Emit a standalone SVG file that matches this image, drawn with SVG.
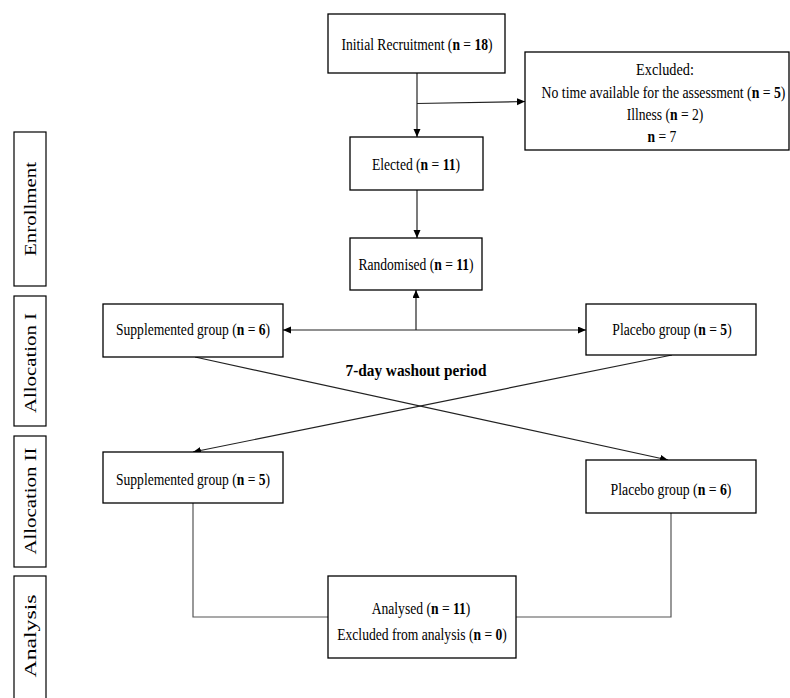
<svg xmlns="http://www.w3.org/2000/svg" width="790" height="698" viewBox="0 0 790 698">
<style>
.box{fill:#fff;stroke:#000;stroke-width:1.3}
.side{fill:#fff;stroke:#000;stroke-width:1.2}
.t{font-family:"Liberation Serif","Times New Roman",serif;font-size:17px;fill:#000;text-anchor:middle}
.st{font-family:"Liberation Serif","Times New Roman",serif;font-size:21px;fill:#000;text-anchor:middle}
.b{font-weight:bold}
.c{fill:none;stroke:#222;stroke-width:1.2}
.g{fill:none;stroke:#555;stroke-width:1.2}
</style>
<defs>
<marker id="ah" markerUnits="userSpaceOnUse" markerWidth="9" markerHeight="8" refX="8" refY="3.5" orient="auto-start-reverse">
<path d="M0,0 L8,3.5 L0,7 z" fill="#000"/>
</marker>
</defs>
<rect width="790" height="698" fill="#fff"/>

<g id="phases">
<g id="phase-enrollment"><rect class="side" x="14" y="132" width="32" height="154"/><text class="st" transform="translate(36,209) rotate(-90) scale(1,0.8)" textLength="94" lengthAdjust="spacingAndGlyphs">Enrollment</text></g>
<g id="phase-allocation1"><rect class="side" x="14" y="296" width="32" height="130"/><text class="st" transform="translate(36,363) rotate(-90) scale(1,0.8)" textLength="100" lengthAdjust="spacingAndGlyphs">Allocation I</text></g>
<g id="phase-allocation2"><rect class="side" x="14" y="436" width="32" height="131"/><text class="st" transform="translate(36,501) rotate(-90) scale(1,0.8)" textLength="107" lengthAdjust="spacingAndGlyphs">Allocation II</text></g>
<g id="phase-analysis"><rect class="side" x="14" y="576" width="32" height="130"/><text class="st" transform="translate(36,636) rotate(-90) scale(1,0.8)" textLength="83" lengthAdjust="spacingAndGlyphs">Analysis</text></g>
</g>

<g id="connectors">
<line class="c" x1="417" y1="73" x2="417" y2="137" marker-end="url(#ah)"/>
<line class="c" x1="417" y1="103.5" x2="525" y2="101.5" marker-end="url(#ah)"/>
<line class="c" x1="417" y1="190" x2="417" y2="238" marker-end="url(#ah)"/>
<line class="c" x1="416" y1="330" x2="416" y2="290" marker-end="url(#ah)"/>
<line class="c" x1="283" y1="330" x2="586" y2="330" marker-start="url(#ah)" marker-end="url(#ah)"/>
<line class="c" x1="195" y1="357" x2="668" y2="460" marker-end="url(#ah)"/>
<line class="c" x1="672" y1="355" x2="193" y2="452" marker-end="url(#ah)"/>
<polyline class="g" points="193,503 193,617 328,617"/>
<polyline class="g" points="671,513 671,617 516,617"/>
</g>

<g id="initial">
<rect class="box" x="328" y="14" width="177" height="59"/>
<text class="t" transform="translate(417,50) scale(0.8,1)">Initial Recruitment (<tspan class="b">n</tspan> = <tspan class="b">18</tspan>)</text>
</g>

<g id="excluded">
<rect class="box" x="525" y="52" width="264" height="98"/>
<text class="t" transform="translate(665,75) scale(0.84,1)">Excluded:</text>
<text class="t" transform="translate(663.5,98) scale(0.81,1)">No time available for the assessment (<tspan class="b">n</tspan> = <tspan class="b">5</tspan>)</text>
<text class="t" transform="translate(665,120) scale(0.8,1)">Illness (<tspan class="b">n</tspan> = 2)</text>
<text class="t" transform="translate(662,142) scale(0.8,1)"><tspan class="b">n</tspan> = 7</text>
</g>

<g id="elected">
<rect class="box" x="350" y="137" width="133" height="53"/>
<text class="t" transform="translate(416,170) scale(0.8,1)">Elected (<tspan class="b">n</tspan> = <tspan class="b">11</tspan>)</text>
</g>

<g id="randomised">
<rect class="box" x="350" y="238" width="132" height="52"/>
<text class="t" transform="translate(416,270) scale(0.8,1)">Randomised (<tspan class="b">n</tspan> = <tspan class="b">11</tspan>)</text>
</g>

<g id="supp1">
<rect class="box" x="103" y="304" width="180" height="53"/>
<text class="t" transform="translate(193,335) scale(0.8,1)">Supplemented group (<tspan class="b">n</tspan> = <tspan class="b">6</tspan>)</text>
</g>

<g id="placebo1">
<rect class="box" x="586" y="304" width="170" height="51"/>
<text class="t" transform="translate(672,335) scale(0.8,1)">Placebo group (<tspan class="b">n</tspan> = <tspan class="b">5</tspan>)</text>
</g>

<g id="washout">
<text class="t b" font-size="18" transform="translate(416,376) scale(0.9,1)">7-day washout period</text>
</g>

<g id="supp2">
<rect class="box" x="103" y="452" width="180" height="51"/>
<text class="t" transform="translate(193,485) scale(0.8,1)">Supplemented group (<tspan class="b">n</tspan> = <tspan class="b">5</tspan>)</text>
</g>

<g id="placebo2">
<rect class="box" x="586" y="460" width="170" height="53"/>
<text class="t" transform="translate(671,495) scale(0.81,1)">Placebo group (<tspan class="b">n</tspan> = <tspan class="b">6</tspan>)</text>
</g>

<g id="analysed">
<rect class="box" x="328" y="576" width="188" height="82"/>
<text class="t" transform="translate(421,614) scale(0.8,1)">Analysed (<tspan class="b">n</tspan> = <tspan class="b">11</tspan>)</text>
<text class="t" transform="translate(422,640) scale(0.8,1)">Excluded from analysis (<tspan class="b">n</tspan> = <tspan class="b">0</tspan>)</text>
</g>
</svg>
